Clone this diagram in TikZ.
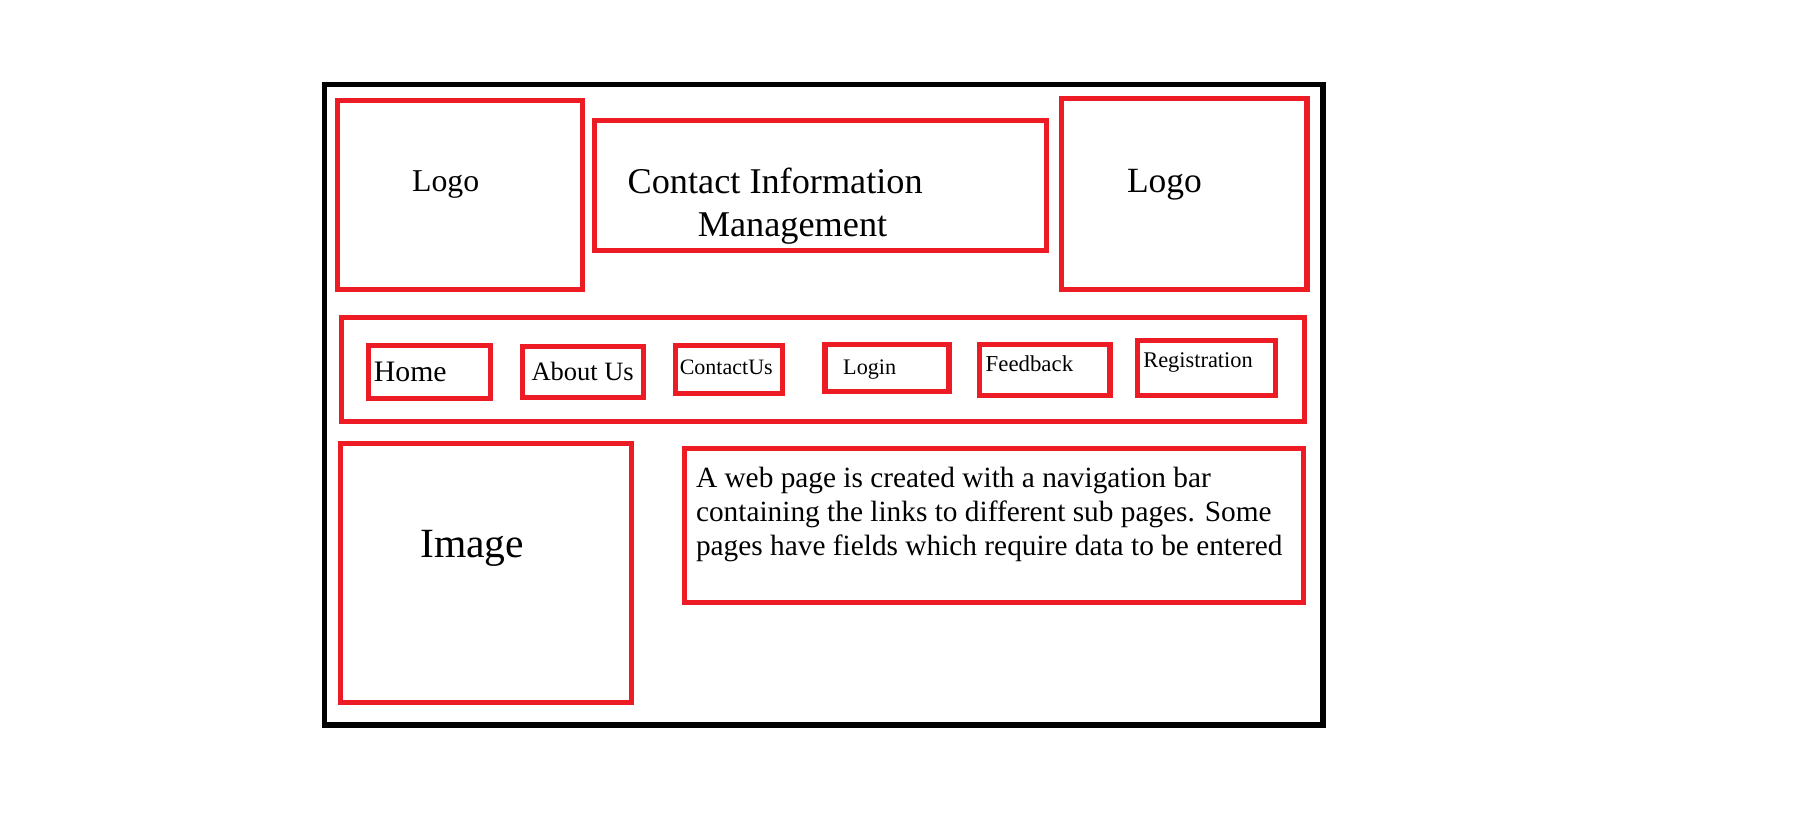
\documentclass[tikz,border=0pt]{standalone}
\usepackage{fontspec}
\setmainfont{Liberation Serif}
\usetikzlibrary{positioning}
\definecolor{paintred}{RGB}{237,28,36}
\tikzset{
  redbox/.style={draw=paintred, line width=1.25pt},
  frame/.style={draw=black, line width=1.4pt},
  lbl/.style={anchor=base west, inner sep=0pt},
}

\begin{document}
\begin{tikzpicture}[x=0.01cm, y=-0.01cm]
    \useasboundingbox (0,0) rectangle (1569,722);
    % page frame
    \draw[frame] (280,73) rectangle (1142,626);
    % header
    \draw[redbox] (291,87) rectangle (503,250);
    \draw[redbox] (513,104) rectangle (903,216);
    \draw[redbox] (916,85) rectangle (1128,250);
    \node[lbl, font=\fontsize{7.8}{9}\selectfont] (logoleft) at (355,165) {Logo};
    \node[lbl, anchor=base, align=center, font=\fontsize{8.9}{10.4}\selectfont] (title) at (674,204) {Contact Information\hspace*{0.1cm}\\\hspace*{0.2cm}Management};
    \node[lbl, font=\fontsize{8.7}{10}\selectfont] (logoright) at (972,166) {Logo};
    % navigation bar
    \draw[redbox] (295,274) rectangle (1126,364);
    \draw[redbox] (318,298) rectangle (423,344);
    \draw[redbox] (451,299) rectangle (555,343);
    \draw[redbox] (583,298) rectangle (675,340);
    \draw[redbox] (712,297) rectangle (819,338);
    \draw[redbox] (845,297) rectangle (958,341);
    \draw[redbox] (982,294) rectangle (1101,341);
    \node[lbl, font=\fontsize{7.3}{8}\selectfont] (home) at (322,329) {Home};
    \node[lbl, font=\fontsize{6.5}{7}\selectfont] (about) at (458,328) {About Us};
    \node[lbl, font=\fontsize{5.4}{6}\selectfont] (contact) at (586,323) {ContactUs};
    \node[lbl, font=\fontsize{5.45}{6}\selectfont] (login) at (727,323) {Login};
    \node[lbl, font=\fontsize{5.6}{6}\selectfont] (feedback) at (850,321) {Feedback};
    \node[lbl, font=\fontsize{5.5}{6}\selectfont] (registration) at (986,317) {Registration};
    % content
    \draw[redbox] (294,383) rectangle (545,606);
    \draw[redbox] (591,387) rectangle (1125,520);
    \node[lbl, font=\fontsize{10.2}{12}\selectfont] (image) at (362,481) {Image};
    \node[lbl, align=left, font=\fontsize{7.2}{8.3}\selectfont] (info) at (600,479)
        {A web page is created with a navigation bar\\containing the links to different sub pages. Some\\pages have fields which require data to be entered};
\end{tikzpicture}
\end{document}
